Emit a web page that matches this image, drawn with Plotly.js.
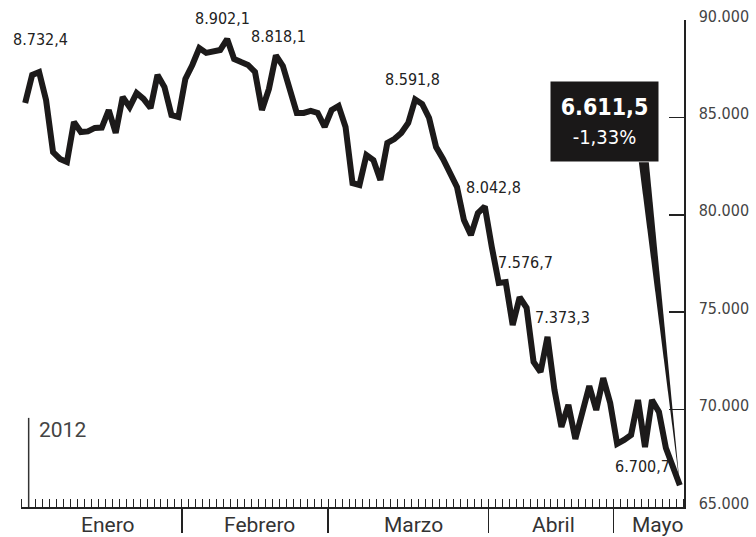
<!DOCTYPE html>
<html><head><meta charset="utf-8">
<script src="https://cdn.plot.ly/plotly-3.0.1.min.js"></script>
<style>
html,body{margin:0;padding:0;background:#fff}
#chart text[style*="DejaVu"]{font-stretch:condensed}
</style>
</head><body><div id="chart" style="width:756px;height:537px"></div>
<script>
// ---- data ----
const closeValues = [
  8574, 8718, 8732.4, 8589, 8322, 8287, 8271, 8476, 8425, 8428,
  8446, 8448, 8538, 8420, 8605, 8553, 8625, 8595, 8548, 8718,
  8656, 8512, 8502, 8697, 8769, 8856, 8831, 8841, 8846, 8902.1,
  8800, 8784, 8769, 8733, 8538, 8646, 8818.1, 8764, 8651, 8523,
  8523, 8533, 8523, 8451, 8538, 8559, 8451, 8163, 8153, 8307,
  8281, 8179, 8369, 8389, 8420, 8471, 8591.8, 8569, 8497, 8348,
  8287, 8220, 8143, 7973, 7896, 8009, 8042.8, 7835, 7650, 7655,
  7434, 7576.7, 7522, 7245, 7193, 7373.3, 7101, 6911, 7024, 6849,
  6972, 7121, 6998, 7162, 7034, 6824, 6844, 6870, 7049, 6808,
  7049, 6988, 6803, 6700.7, 6611.5
];
const dayIndex = closeValues.map((_, i) => i);
const monthNames = ['Enero', 'Febrero', 'Marzo', 'Abril', 'Mayo'];
const monthLabelAt = [11.9, 33.6, 55.8, 75.8, 90.8];
const monthBreaks = [22.5, 43.5, 66.5, 84.5];
const yearStart = 0.5;
const yearLabel = '2012';
const yTickVals = [6500, 7000, 7500, 8000, 8500, 9000];
const yTickText = ['65.000', '70.000', '75.000', '80.000', '85.000', '90.000'];
const labelIdx = [2, 29, 36, 56, 66, 71, 75, 93];
const labelText = ['8.732,4', '8.902,1', '8.818,1', '8.591,8', '8.042,8', '7.576,7', '7.373,3', '6.700,7'];
const lastValueText = '6.611,5';
const lastChangeText = '-1,33%';

// ---- styling / layout ----
const NARROW = '"DejaVu Sans", "DejaVu Sans Condensed", sans-serif';
const LIGHT = 'Roboto, "Open Sans", sans-serif';
const INK = '#1c1a1a';
const labelShift = [[1, 33], [-5, 21], [3, 19], [-3, 20], [9, 19], [6, 35], [15, 19], [-30, 1]];

const annotations = [];
labelIdx.forEach((idx, k) => {
  annotations.push({
    x: dayIndex[idx], y: closeValues[idx], xref: 'x', yref: 'y',
    text: labelText[k], showarrow: false,
    xshift: labelShift[k][0], yshift: labelShift[k][1],
    font: {family: NARROW, size: 16, color: '#222'}
  });
});
monthNames.forEach((m, k) => {
  annotations.push({
    x: monthLabelAt[k], y: -0.037, xref: 'x', yref: 'paper',
    yanchor: 'middle', text: m, showarrow: false,
    font: {family: LIGHT, size: 21, color: '#333'}
  });
});
annotations.push({
  x: 0.024, y: 0.158, xref: 'paper', yref: 'paper', xanchor: 'left', yanchor: 'middle',
  text: yearLabel, showarrow: false, font: {family: LIGHT, size: 21, color: '#444'}
});
// highlighted last value box
annotations.push({
  x: 0.880, y: 0.7916, xref: 'paper', yref: 'paper', xanchor: 'center', yanchor: 'middle',
  text: '<b>' + lastValueText + '</b><br><span style="font-size:20px">' + lastChangeText + '</span>',
  showarrow: false, bgcolor: '#1a1818', width: 101, height: 73, borderpad: 3,
  align: 'center', font: {family: NARROW, size: 23, color: '#fff'}
});

const lastI = closeValues.length - 1;
const shapes = [
  {type: 'line', xref: 'x', yref: 'paper', x0: yearStart, x1: yearStart, y0: 0, y1: 0.183,
   line: {color: '#333', width: 1.5}},
  {type: 'path', xref: 'x', yref: 'y', xsizemode: 'pixel', ysizemode: 'pixel',
   xanchor: dayIndex[lastI], yanchor: closeValues[lastI],
   path: 'M0,0 L-41,323 L-31,323 Z', fillcolor: INK, line: {width: 0}}
];

const trace = {
  x: dayIndex, y: closeValues, type: 'scatter', mode: 'lines',
  line: {color: INK, width: 6, shape: 'linear'}, hoverinfo: 'skip'
};

const layout = {
  width: 756, height: 537,
  margin: {l: 21, r: 72, t: 20, b: 30},
  paper_bgcolor: '#fff', plot_bgcolor: '#fff',
  showlegend: false,
  xaxis: {
    range: [-0.6, 94.6], showgrid: false, zeroline: false,
    showline: true, linecolor: '#222', linewidth: 1.5,
    tickmode: 'array', tickvals: monthBreaks, ticktext: monthBreaks.map(() => ''),
    ticks: 'outside', ticklen: 24, tickwidth: 1.5, tickcolor: '#222',
    minor: {tickmode: 'linear', tick0: 0.5, dtick: 1, ticks: 'inside', ticklen: 8,
            tickwidth: 1, tickcolor: '#222', showgrid: false},
    fixedrange: true
  },
  yaxis: {
    range: [6500, 9000], side: 'right', showgrid: false, zeroline: false,
    showline: true, linecolor: '#222', linewidth: 1.5,
    tickmode: 'array', tickvals: yTickVals, ticktext: yTickText,
    ticks: 'inside', ticklen: 15, tickwidth: 1.5, tickcolor: '#222',
    ticklabelstandoff: 10, ticklabelshift: -4,
    tickfont: {family: NARROW, size: 16, color: '#444'},
    fixedrange: true
  },
  annotations: annotations,
  shapes: shapes
};

Plotly.newPlot('chart', [trace], layout, {displayModeBar: false, staticPlot: true});
</script>
</body></html>
